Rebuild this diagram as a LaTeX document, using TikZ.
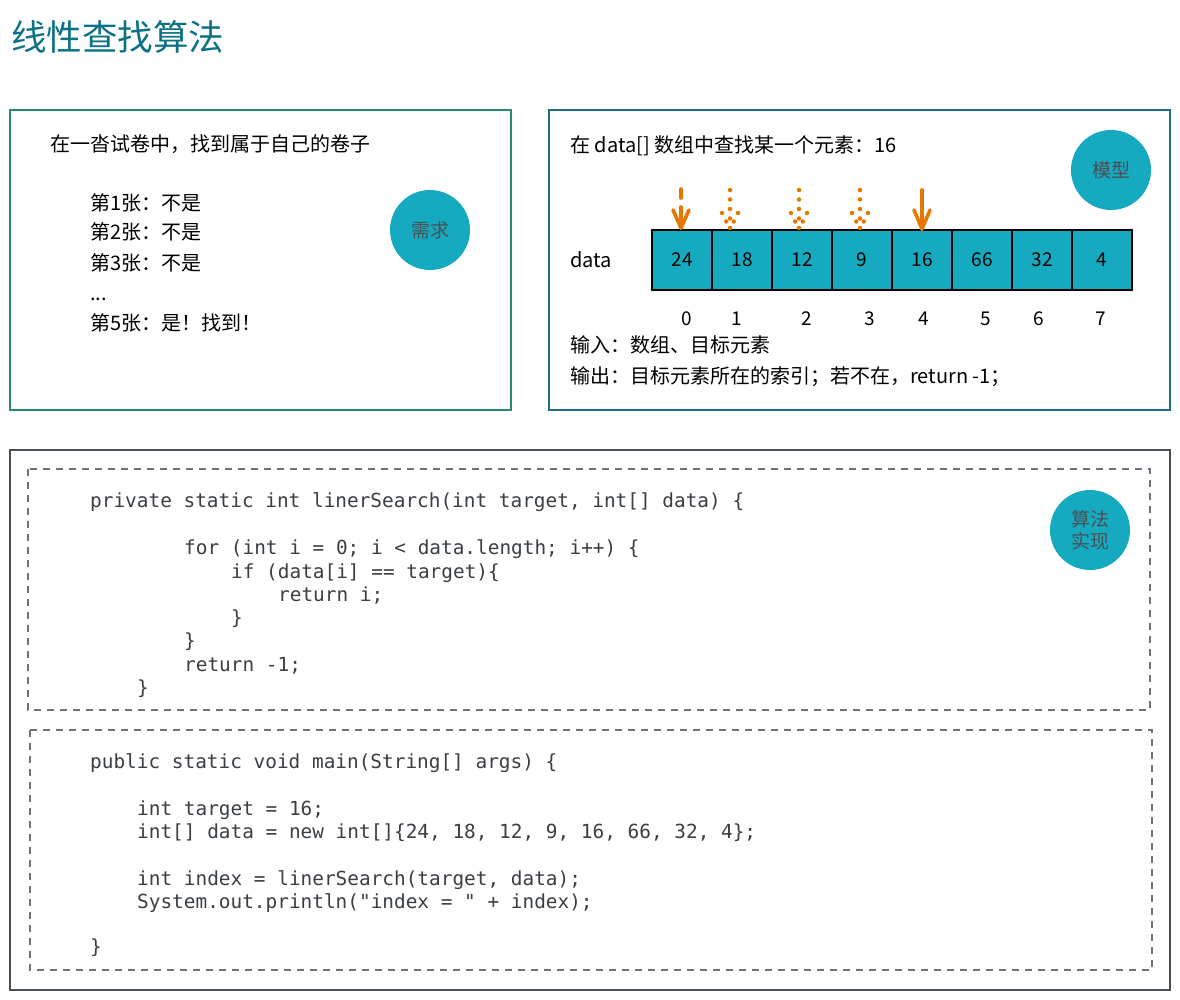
\documentclass[tikz,border=0pt]{standalone}
\usepackage{fontspec}
\setmainfont{Noto Sans CJK SC}
\setmonofont{DejaVu Sans Mono}
\definecolor{titlec}{HTML}{0B7285}
\definecolor{greenb}{HTML}{2B8A6A}
\definecolor{tealb}{HTML}{1B6F80}
\definecolor{codeb}{HTML}{495057}
\definecolor{dashc}{HTML}{6C737A}
\definecolor{cyanf}{HTML}{15AABF}
\definecolor{badget}{HTML}{4A5056}
\definecolor{codet}{HTML}{3A3F44}
\definecolor{arrowc}{HTML}{E67700}
\begin{document}
\begin{tikzpicture}[x=1pt,y=-1pt,
  txt/.style={anchor=base west,inner sep=0,font=\fontsize{20}{22}\selectfont,text=black},
  code/.style={anchor=base west,inner sep=0,font=\ttfamily\fontsize{19.4}{22}\selectfont,text=codet},
  badge/.style={circle,fill=cyanf,minimum size=80,inner sep=0,text=badget,align=center,font=\fontsize{19}{22}\selectfont},
  cell/.style={draw=black,line width=1.1,fill=cyanf,minimum width=60,minimum height=60,inner sep=0,font=\fontsize{19}{22}\selectfont},
  idx/.style={anchor=base,inner sep=0,font=\fontsize{19}{22}\selectfont},
  arr/.style={draw=arrowc,line width=3.6,line cap=round,line join=round},
  darr/.style={draw=arrowc,line width=4.5,line cap=round,dash pattern=on 0pt off 9.5pt}]
\useasboundingbox (0,0) rectangle (1180,1000);
\fill[white] (0,0) rectangle (1180,1000);
% title
\node[anchor=base west,inner sep=0,text=titlec,font=\fontsize{35.5}{40}\selectfont] (title) at (11,51) {线性查找算法};
% frames
\draw[greenb,line width=1.6] (10,110) rectangle (511,410);
\draw[tealb,line width=1.6] (549,110) rectangle (1170,410);
\draw[codeb,line width=2.4] (10,450) rectangle (1170,990);
\draw[dashc,line width=1.3,dash pattern=on 7pt off 6pt] (28,469) rectangle (1150,710);
\draw[dashc,line width=1.3,dash pattern=on 7pt off 6pt] (30,730) rectangle (1152,970);
% left box
\node[txt] (l0) at (50,152) {在一沓试卷中，找到属于自己的卷子};
\node[txt] (l1) at (90,211) {第1张：不是};
\node[txt] (l2) at (90,240) {第2张：不是};
\node[txt] (l3) at (90,270) {第3张：不是};
\node[txt] (l4) at (90,300) {...};
\node[txt] (l5) at (90,330) {第5张：是！找到！};
\node[badge] (b1) at (430,230) {需求};
% right box
\node[txt] (r0) at (570,153) {在 data[] 数组中查找某一个元素：16};
\node[badge] (b2) at (1111,170) {模型};
\node[txt] (dlabel) at (570,268) {data};
\foreach \v [count=\i from 0] in {24,18,12,9,16,66,32,4}
  \node[cell] (c\i) at (682+60*\i,260) {\v};
\foreach \x [count=\i from 0] in {687,737,807,870,924,986,1039,1101}
  \node[idx] (ix\i) at (\x,325) {\i};
\node[txt] (in) at (570,352) {输入：数组、目标元素};
\node[txt] (out) at (570,383) {输出：目标元素所在的索引；若不在，return -1；};
% arrows
\coordinate (a0s) at (681,189);
\coordinate (a0m) at (681,198);
\coordinate (a0n) at (681,207);
\coordinate (a0e) at (681,228);
\draw[arr] (a0s) -- (a0m);
\draw[arr] (a0n) -- (a0e);
\draw[arr] ([xshift=-8,yshift=18]a0e) -- (a0e) -- ([xshift=8,yshift=18]a0e);
\coordinate (a4s) at (922,190);
\coordinate (a4e) at (922,229);
\draw[arr] (a4s) -- (a4e);
\draw[arr] ([xshift=-8,yshift=19]a4e) -- (a4e) -- ([xshift=8,yshift=19]a4e);
\foreach \n/\x in {1/730,2/799,3/860}{
  \coordinate (d\n s) at (\x,190);
  \coordinate (d\n e) at (\x,228);
  \draw[darr] (d\n s) -- (d\n e);
  \draw[darr] ([xshift=-8,yshift=15]d\n e) -- ([xshift=-1,yshift=1]d\n e);
  \draw[darr] ([xshift=8,yshift=15]d\n e) -- ([xshift=1,yshift=1]d\n e);
}
% code block 1
\node[badge] (b3) at (1090,530) {算法\\实现};
\node[code] (k1) at (90,507) {private static int linerSearch(int target, int[] data) \{};
\node[code] (k2) at (184,554) {for (int i = 0; i < data.length; i++) \{};
\node[code] (k3) at (231,578) {if (data[i] == target)\{};
\node[code] (k4) at (278,601) {return i;};
\node[code] (k5) at (231,624) {\}};
\node[code] (k6) at (184,647) {\}};
\node[code] (k7) at (184,671) {return -1;};
\node[code] (k8) at (137,694) {\}};
% code block 2
\node[code] (m1) at (90,768) {public static void main(String[] args) \{};
\node[code] (m2) at (137,815) {int target = 16;};
\node[code] (m3) at (137,838) {int[] data = new int[]\{24, 18, 12, 9, 16, 66, 32, 4\};};
\node[code] (m4) at (137,885) {int index = linerSearch(target, data);};
\node[code] (m5) at (137,908) {System.out.println("index = " + index);};
\node[code] (m6) at (90,953) {\}};
\end{tikzpicture}
\end{document}
